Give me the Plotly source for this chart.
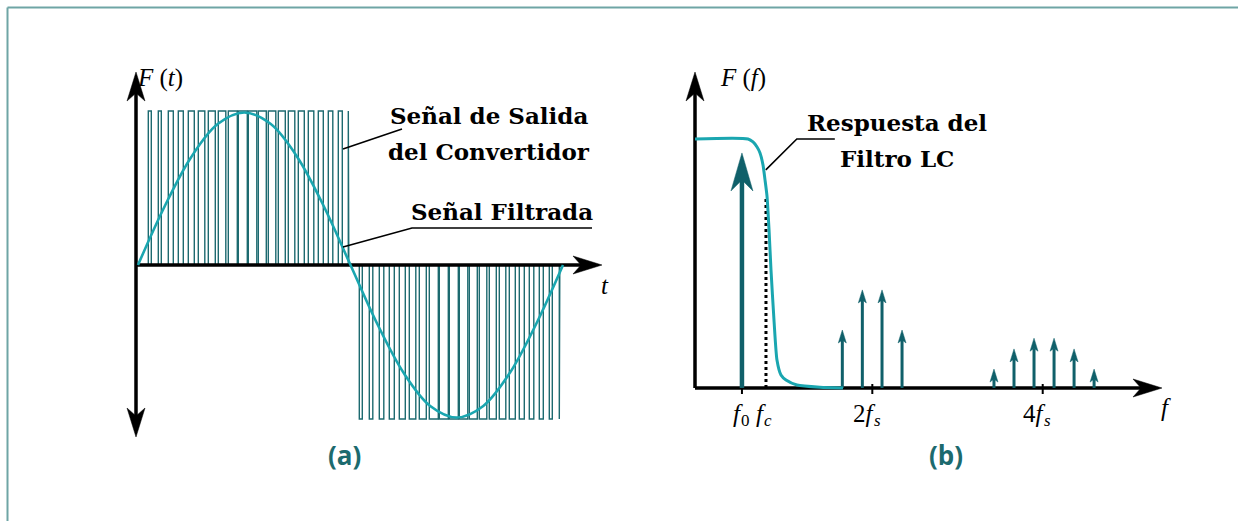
import plotly.graph_objects as go

FIG_W, FIG_H = 1238, 521

# ---------------- panel (a): converter output (PWM) and filtered signal ----------------
SINE_T = [0, 2.66, 5.31, 7.97, 10.63, 13.28, 15.94, 18.59, 21.25,
          23.91, 26.56, 29.22, 31.88, 34.53, 37.19, 39.84, 42.5]
SINE_Y = [0, 0.38, 0.70, 0.915, 0.99, 0.915, 0.70, 0.38, 0,
          -0.38, -0.70, -0.915, -0.99, -0.915, -0.70, -0.38, 0]

PULSE_PERIOD = 1.0
POS_START = 1.03
NEG_START = 22.13
PULSE_AMP = 1.0
POS_DUTY = [0.3, 0.3, 0.5, 0.5, 0.6, 0.65, 0.7, 0.75, 0.9, 0.9,
            0.85, 0.8, 0.75, 0.7, 0.65, 0.6, 0.55, 0.5, 0.45, 0.4, 0.05]
NEG_DUTY = [0.3, 0.35, 0.45, 0.5, 0.6, 0.65, 0.7, 0.9, 0.9, 0.9,
            0.85, 0.8, 0.75, 0.7, 0.65, 0.6, 0.5, 0.45, 0.4, 0.3, 0.05]

# ---------------- panel (b): spectrum (units of fs) ----------------
FILTER_F = [-0.081, 0.541, 0.600, 0.647, 0.682, 0.717, 0.741, 0.764, 0.788,
            0.811, 0.846, 0.881, 0.928, 0.987, 1.116, 1.386, 1.656]
FILTER_H = [1.0, 1.0, 0.988, 0.968, 0.944, 0.896, 0.835, 0.771, 0.635,
            0.474, 0.273, 0.112, 0.052, 0.032, 0.012, 0.003, 0.0]
F0 = 0.47
F0_AMP = 0.944
FC = 0.752
FC_TOP = 0.771
SB_F = [1.648, 1.883, 2.114, 2.349, 3.428, 3.663, 3.898, 4.133, 4.368, 4.603]
SB_A = [0.233, 0.394, 0.394, 0.233, 0.076, 0.157, 0.200, 0.200, 0.157, 0.076]
TICK_F = [0.47, 2.0, 4.0]
# label main part and subscript (subscript drawn as its own smaller text)
TICK_MAIN = ["<i>f</i>", "<i>f</i>", "2<i>f</i>", "4<i>f</i>"]
TICK_SUB = ["0", "<i>c</i>", "<i>s</i>", "<i>s</i>"]

# ---------------- axes geometry ----------------
XA_RANGE = [-13.8, 110.0]
YA_RANGE = [-1.6623, 1.7208]
XB_RANGE = [-8.238, 6.292]
YB_RANGE = [-0.5341, 1.5582]
A_AX = dict(t0=-0.2, t1=46.4, ylo=-1.117, yhi=1.253)
B_AX = dict(f0=-0.081, f1=5.40, hhi=1.269)

DARK = "#1d6a70"
SPEC = "#10606a"
SINE_C = "#1aa6b0"
LABEL_C = "#1c6a6e"
FRAME_C = "#6fa5a5"

sxa = FIG_W / (XA_RANGE[1] - XA_RANGE[0])
sya = FIG_H / (YA_RANGE[1] - YA_RANGE[0])
sxb = FIG_W / (XB_RANGE[1] - XB_RANGE[0])
syb = FIG_H / (YB_RANGE[1] - YB_RANGE[0])


def stealth(tx, ty, direction, L, Wd, N, sx, sy):
    pts = [(0, 0), (-Wd / 2, L), (0, L - N), (Wd / 2, L), (0, 0)]
    xs, ys = [], []
    for u, v in pts:
        if direction == "up":
            dx, dy = u, v
        elif direction == "down":
            dx, dy = u, -v
        else:  # right
            dx, dy = -v, u
        xs.append(tx + dx / sx)
        ys.append(ty - dy / sy)
    return xs, ys


def heads(specs, sx, sy):
    X, Y = [], []
    for (tx, ty, d, L, Wd, N) in specs:
        xs, ys = stealth(tx, ty, d, L, Wd, N, sx, sy)
        X += xs + [None]
        Y += ys + [None]
    return X, Y


fig = go.Figure()

# ---- (a) pulses ----
px_, py_ = [], []
for k, d in enumerate(POS_DUTY):
    s = POS_START + k * PULSE_PERIOD
    e = s + d * PULSE_PERIOD
    px_ += [s, s, e, e, None]
    py_ += [0, PULSE_AMP, PULSE_AMP, 0, None]
for k, d in enumerate(NEG_DUTY):
    s = NEG_START + k * PULSE_PERIOD
    e = s + d * PULSE_PERIOD
    px_ += [s, s, e, e, None]
    py_ += [0, -PULSE_AMP, -PULSE_AMP, 0, None]
fig.add_trace(go.Scatter(x=px_, y=py_, mode="lines", line=dict(color=DARK, width=1.4),
                         xaxis="x", yaxis="y", hoverinfo="skip"))

# ---- (a) axes ----
AL, AW, AN = 29, 18, 8
fig.add_trace(go.Scatter(
    x=[A_AX["t0"], A_AX["t1"] - (AL - AN) / sxa, None, A_AX["t0"], A_AX["t0"]],
    y=[0, 0, None, A_AX["ylo"] + (AL - AN) / sya, A_AX["yhi"] - (AL - AN) / sya],
    mode="lines", line=dict(color="black", width=3.5), xaxis="x", yaxis="y", hoverinfo="skip"))
hx, hy = heads([(A_AX["t1"], 0, "right", AL, AW, AN),
                (A_AX["t0"], A_AX["yhi"], "up", AL, AW, AN),
                (A_AX["t0"], A_AX["ylo"], "down", AL, AW, AN)], sxa, sya)
fig.add_trace(go.Scatter(x=hx, y=hy, mode="lines", fill="toself", fillcolor="black",
                         line=dict(color="black", width=0.5), xaxis="x", yaxis="y", hoverinfo="skip"))

# ---- (a) filtered sine ----
fig.add_trace(go.Scatter(x=SINE_T, y=SINE_Y, mode="lines", line=dict(color=SINE_C, width=2.6, shape="spline"),
                         xaxis="x", yaxis="y", hoverinfo="skip"))

# ---- (a) leader lines ----
fig.add_trace(go.Scatter(x=[20.5, 26.4, None, 20.5, 27.4, 45.4],
                         y=[0.753, 0.883, None, 0.117, 0.24, 0.24],
                         mode="lines", line=dict(color="black", width=1.6), xaxis="x", yaxis="y", hoverinfo="skip"))

# ---- (b) axes ----
fig.add_trace(go.Scatter(
    x=[B_AX["f0"], B_AX["f1"] - (AL - AN) / sxb, None, B_AX["f0"], B_AX["f0"]],
    y=[0, 0, None, 0, B_AX["hhi"] - (AL - AN) / syb],
    mode="lines", line=dict(color="black", width=3.5), xaxis="x2", yaxis="y2", hoverinfo="skip"))
hx, hy = heads([(B_AX["f1"], 0, "right", AL, AW, AN),
                (B_AX["f0"], B_AX["hhi"], "up", AL, AW, AN)], sxb, syb)
fig.add_trace(go.Scatter(x=hx, y=hy, mode="lines", fill="toself", fillcolor="black",
                         line=dict(color="black", width=0.5), xaxis="x2", yaxis="y2", hoverinfo="skip"))

# ticks
tx_, ty_ = [], []
for f in TICK_F:
    tx_ += [f, f, None]
    ty_ += [-6 / syb, 4 / syb, None]
fig.add_trace(go.Scatter(x=tx_, y=ty_, mode="lines", line=dict(color="black", width=2),
                         xaxis="x2", yaxis="y2", hoverinfo="skip"))

# fc dotted
fig.add_trace(go.Scatter(x=[FC, FC], y=[0, FC_TOP], mode="lines",
                         line=dict(color="black", width=3, dash="dot"), xaxis="x2", yaxis="y2", hoverinfo="skip"))

# f0 arrow
BL, BW, BN = 38, 22, 11
fig.add_trace(go.Scatter(x=[F0, F0], y=[0, F0_AMP - (BL - BN) / syb], mode="lines",
                         line=dict(color=SPEC, width=4.5), xaxis="x2", yaxis="y2", hoverinfo="skip"))
hx, hy = heads([(F0, F0_AMP, "up", BL, BW, BN)], sxb, syb)
fig.add_trace(go.Scatter(x=hx, y=hy, mode="lines", fill="toself", fillcolor=SPEC,
                         line=dict(color=SPEC, width=0.5), xaxis="x2", yaxis="y2", hoverinfo="skip"))

# sidebands
SL, SW, SN = 13, 8, 3
sx_, sy_ = [], []
specs = []
for f, a in zip(SB_F, SB_A):
    sx_ += [f, f, None]
    sy_ += [0, a - (SL - SN) / syb, None]
    specs.append((f, a, "up", SL, SW, SN))
fig.add_trace(go.Scatter(x=sx_, y=sy_, mode="lines", line=dict(color=SPEC, width=3),
                         xaxis="x2", yaxis="y2", hoverinfo="skip"))
hx, hy = heads(specs, sxb, syb)
fig.add_trace(go.Scatter(x=hx, y=hy, mode="lines", fill="toself", fillcolor=SPEC,
                         line=dict(color=SPEC, width=0.5), xaxis="x2", yaxis="y2", hoverinfo="skip"))

# filter response
fig.add_trace(go.Scatter(x=FILTER_F, y=FILTER_H, mode="lines",
                         line=dict(color=SINE_C, width=3, shape="spline", smoothing=0.6),
                         xaxis="x2", yaxis="y2", hoverinfo="skip"))

# leader (b)
fig.add_trace(go.Scatter(x=[0.75, 1.114, 1.56], y=[0.876, 1.0, 1.0], mode="lines",
                         line=dict(color="black", width=1.6), xaxis="x2", yaxis="y2", hoverinfo="skip"))


def P(xpx, ypx):
    return xpx / FIG_W, 1 - ypx / FIG_H


ann = []


def text(s, xpx, ypx, size, family, color="black", weight="normal", xanchor="center"):
    x, y = P(xpx, ypx)
    ann.append(dict(text=s, x=x, y=y, xref="paper", yref="paper", showarrow=False,
                    xanchor=xanchor, yanchor="middle", borderpad=0,
                    font=dict(size=size, family=family, color=color, weight=weight)))


SERIF = "Liberation Serif"
BSERIF = "DejaVu Serif"
text("<i>F</i> (<i>t</i>)", 160, 78, 25, SERIF)
text("<i>t</i>", 605, 285, 25, SERIF)
text("<i>F</i> (<i>f</i>)", 743, 78, 25, SERIF)
text("<i>f</i>", 1166, 407, 25, SERIF)
# tick labels: main part right-anchored at split, subscript left-anchored
SPLIT_PX = [744, 767, 877, 1047]
for main, sub, xs in zip(TICK_MAIN, TICK_SUB, SPLIT_PX):
    text(main, xs, 413, 25, SERIF, xanchor="right")
    text(sub, xs - 4, 420, 17, SERIF, xanchor="left")
text("Señal de Salida", 489, 115, 23, BSERIF, weight="bold")
text("del Convertidor", 489, 151, 23, BSERIF, weight="bold")
text("Señal Filtrada", 502, 211, 23, BSERIF, weight="bold")
text("Respuesta del", 897, 122, 23, BSERIF, weight="bold")
text("Filtro LC", 897, 158, 23, BSERIF, weight="bold")
text("(a)", 344, 455, 26, "Open Sans", LABEL_C, weight="bold")
text("(b)", 946, 455, 26, "Open Sans", LABEL_C, weight="bold")

shapes = [
    dict(type="line", xref="paper", yref="paper", x0=7.5 / FIG_W, x1=1, y0=1 - 7.5 / FIG_H, y1=1 - 7.5 / FIG_H,
         line=dict(color=FRAME_C, width=2)),
    dict(type="line", xref="paper", yref="paper", x0=7.5 / FIG_W, x1=7.5 / FIG_W, y0=0, y1=1 - 7.5 / FIG_H,
         line=dict(color=FRAME_C, width=2)),
]

ax_common = dict(visible=False, showgrid=False, zeroline=False, fixedrange=True)
fig.update_layout(
    width=FIG_W, height=FIG_H, autosize=False,
    margin=dict(l=0, r=0, t=0, b=0),
    paper_bgcolor="white", plot_bgcolor="rgba(0,0,0,0)",
    showlegend=False,
    xaxis=dict(domain=[0, 1], range=XA_RANGE, anchor="y", **ax_common),
    yaxis=dict(domain=[0, 1], range=YA_RANGE, anchor="x", **ax_common),
    xaxis2=dict(domain=[0, 1], range=XB_RANGE, anchor="y2", **ax_common),
    yaxis2=dict(domain=[0, 1], range=YB_RANGE, anchor="x2", **ax_common),
    annotations=ann, shapes=shapes,
)

fig.write_html("out.html", config={"displayModeBar": False})
